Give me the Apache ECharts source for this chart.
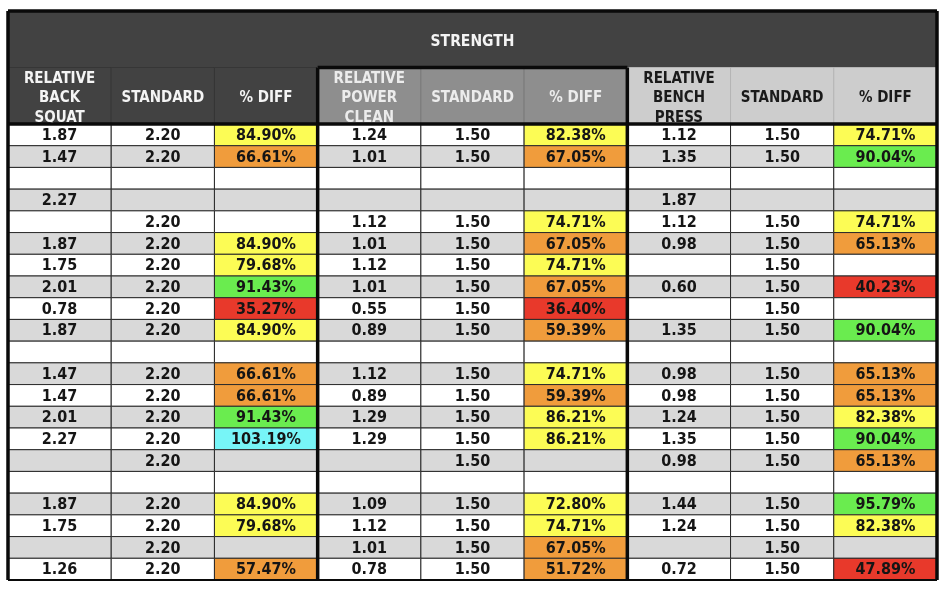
<!DOCTYPE html>
<html>
<head>
<meta charset="utf-8">
<script src="https://cdn.jsdelivr.net/npm/echarts@6/dist/echarts.min.js"></script>
<style>
html,body{margin:0;padding:0;background:#fff;}
#chart{width:947px;height:606px;}
</style>
</head>
<body>
<div id="chart"></div>
<script>
// ---------- DATA ----------
const title = 'STRENGTH';
const headers = ['RELATIVE\nBACK\nSQUAT', 'STANDARD', '% DIFF',
                 'RELATIVE\nPOWER\nCLEAN', 'STANDARD', '% DIFF',
                 'RELATIVE\nBENCH\nPRESS', 'STANDARD', '% DIFF'];

const backSquat  = [1.87, 1.47, null, 2.27, null, 1.87, 1.75, 2.01, 0.78, 1.87, null, 1.47, 1.47, 2.01, 2.27, null, null, 1.87, 1.75, null, 1.26];
const squatStd   = [2.20, 2.20, null, null, 2.20, 2.20, 2.20, 2.20, 2.20, 2.20, null, 2.20, 2.20, 2.20, 2.20, 2.20, null, 2.20, 2.20, 2.20, 2.20];
const squatDiff  = [84.90, 66.61, null, null, null, 84.90, 79.68, 91.43, 35.27, 84.90, null, 66.61, 66.61, 91.43, 103.19, null, null, 84.90, 79.68, null, 57.47];

const powerClean = [1.24, 1.01, null, null, 1.12, 1.01, 1.12, 1.01, 0.55, 0.89, null, 1.12, 0.89, 1.29, 1.29, null, null, 1.09, 1.12, 1.01, 0.78];
const cleanStd   = [1.50, 1.50, null, null, 1.50, 1.50, 1.50, 1.50, 1.50, 1.50, null, 1.50, 1.50, 1.50, 1.50, 1.50, null, 1.50, 1.50, 1.50, 1.50];
const cleanDiff  = [82.38, 67.05, null, null, 74.71, 67.05, 74.71, 67.05, 36.40, 59.39, null, 74.71, 59.39, 86.21, 86.21, null, null, 72.80, 74.71, 67.05, 51.72];

const benchPress = [1.12, 1.35, null, 1.87, 1.12, 0.98, null, 0.60, null, 1.35, null, 0.98, 0.98, 1.24, 1.35, 0.98, null, 1.44, 1.24, null, 0.72];
const benchStd   = [1.50, 1.50, null, null, 1.50, 1.50, 1.50, 1.50, 1.50, 1.50, null, 1.50, 1.50, 1.50, 1.50, 1.50, null, 1.50, 1.50, 1.50, 1.50];
const benchDiff  = [74.71, 90.04, null, null, 74.71, 65.13, null, 40.23, null, 90.04, null, 65.13, 65.13, 82.38, 90.04, 65.13, null, 95.79, 82.38, null, 47.89];

// ---------- STYLE ----------
const FONT = '"DejaVu Sans Condensed", "DejaVu Sans", sans-serif';
const ROW_WHITE = '#ffffff', ROW_GRAY = '#d9d9d9';
function diffColor(v) {
  if (v >= 100) return '#77f5f7';
  if (v >= 90) return '#6aec4f';
  if (v >= 70) return '#fcfc55';
  if (v >= 50) return '#f09c3c';
  return '#e8392b';
}
const headerFill = ['#424242', '#424242', '#424242', '#8e8e8e', '#8e8e8e', '#8e8e8e', '#cdcdcd', '#cdcdcd', '#cdcdcd'];
const headerText = ['#f4f4f4', '#f4f4f4', '#f4f4f4', '#ececec', '#ececec', '#ececec', '#1a1a1a', '#1a1a1a', '#1a1a1a'];
const headerLine = ['#363636', '#363636', '#363636', '#7a7a7a', '#7a7a7a', '#7a7a7a', '#b5b5b5', '#b5b5b5', '#b5b5b5'];

const columns = [
  {vals: backSquat, pct: false}, {vals: squatStd, pct: false}, {vals: squatDiff, pct: true},
  {vals: powerClean, pct: false}, {vals: cleanStd, pct: false}, {vals: cleanDiff, pct: true},
  {vals: benchPress, pct: false}, {vals: benchStd, pct: false}, {vals: benchDiff, pct: true}
];
const nRows = backSquat.length;
const nCols = columns.length;

// ---------- BUILD CELLS ----------
const bodyCells = [];
for (let r = 0; r < nRows; r++) {
  const rowBg = (r % 2 === 0) ? ROW_WHITE : ROW_GRAY;
  columns.forEach((col, c) => {
    const v = col.vals[r];
    let text = '', fill = rowBg;
    if (v !== null && v !== undefined) {
      text = col.pct ? v.toFixed(2) + '%' : v.toFixed(2);
      if (col.pct) fill = diffColor(v);
    }
    bodyCells.push({c: c, r: r, span: 1, text: text, fill: fill, color: '#151515', stroke: '#2a2a2a', dy: 1});
  });
}
const headCells = [{c: 0, r: 0, span: nCols, text: title, fill: '#424242', color: '#f4f4f4', stroke: '#424242', title: true, dy: 3}];
headers.forEach((h, c) => {
  headCells.push({c: c, r: 1, span: 1, text: h, fill: headerFill[c], color: headerText[c], stroke: headerLine[c], dy: 2.5});
});

function cellSeries(cells, gridIdx, fontSize, lineH) {
  return {
    type: 'custom',
    xAxisIndex: gridIdx, yAxisIndex: gridIdx,
    data: cells.map(d => [d.c, d.r]),
    z: 2,
    renderItem: function (params, api) {
      const d = cells[params.dataIndex];
      const p0 = api.coord([d.c, d.r]);
      const p1 = api.coord([d.c + d.span, d.r + 1]);
      return {
        type: 'group',
        children: [
          {type: 'rect', shape: {x: p0[0], y: p0[1], width: p1[0] - p0[0], height: p1[1] - p0[1]},
           style: {fill: d.fill, stroke: d.stroke, lineWidth: 1}},
          {type: 'text', z2: 10,
           style: {text: d.text, x: (p0[0] + p1[0]) / 2, y: (p0[1] + p1[1]) / 2 + d.dy,
                   align: 'center', verticalAlign: 'middle',
                   fontFamily: FONT, fontWeight: 'bold', fontSize: d.title ? 15.5 : fontSize,
                   lineHeight: lineH, fill: d.color}}
        ]
      };
    }
  };
}

// thick border segments: [x1, y1, x2, y2] in each grid's cell units
const headBorders = [[0, 0, 9, 0], [0, 0, 0, 2], [9, 0, 9, 2], [3, 1, 6, 1], [3, 1, 3, 2], [6, 1, 6, 2]];
const bodyBorders = [[0, 0, 9, 0], [0, 0, 0, 21], [9, 0, 9, 21], [3, 0, 3, 21], [6, 0, 6, 21], [0, 21, 9, 21]];
function borderSeries(segs, gridIdx, widths) {
  return {
    type: 'custom',
    xAxisIndex: gridIdx, yAxisIndex: gridIdx,
    data: segs,
    z: 5,
    renderItem: function (params, api) {
      const s = segs[params.dataIndex];
      const a = api.coord([s[0], s[1]]);
      const b = api.coord([s[2], s[3]]);
      return {type: 'line', shape: {x1: a[0], y1: a[1], x2: b[0], y2: b[1]},
              style: {stroke: '#0a0a0a', lineWidth: widths(s)}};
    }
  };
}

const chart = echarts.init(document.getElementById('chart'), null, {renderer: 'canvas'});
const hiddenX = (i) => ({type: 'value', gridIndex: i, min: 0, max: nCols, show: false});
chart.setOption({
  animation: false,
  backgroundColor: '#ffffff',
  grid: [
    {left: 8, right: 10, top: 11, height: 113},
    {left: 8, right: 10, top: 124, bottom: 26}
  ],
  xAxis: [hiddenX(0), hiddenX(1)],
  yAxis: [
    {type: 'value', gridIndex: 0, min: 0, max: 2, inverse: true, show: false},
    {type: 'value', gridIndex: 1, min: 0, max: nRows, inverse: true, show: false}
  ],
  series: [
    cellSeries(headCells, 0, 15, 19.5),
    cellSeries(bodyCells, 1, 16, 20),
    borderSeries(headBorders, 0, () => 3.5),
    borderSeries(bodyBorders, 1, (s) => (s[1] === 21 && s[3] === 21) ? 2 : 3.5)
  ]
});
</script>
</body>
</html>
